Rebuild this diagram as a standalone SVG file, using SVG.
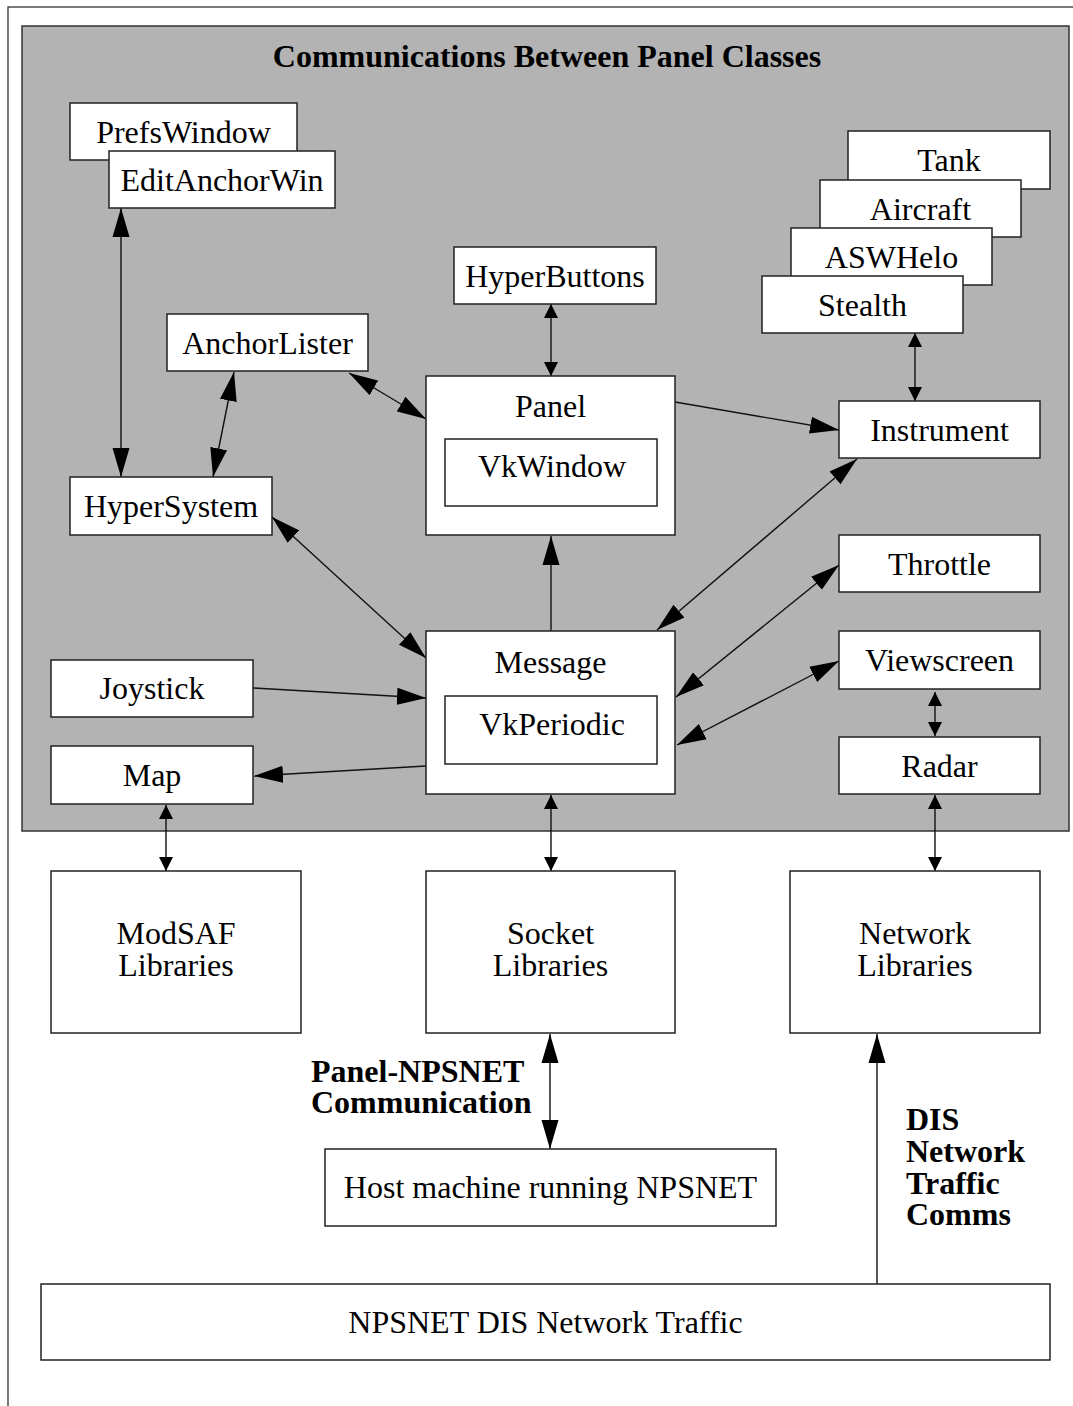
<svg xmlns="http://www.w3.org/2000/svg" width="1073" height="1406" viewBox="0 0 1073 1406">
<style>
  .box { fill: #ffffff; stroke: #222; stroke-width: 1.5; }
  .panelbg { fill: #b3b3b3; stroke: #333; stroke-width: 1.5; }
  .frame { fill: #ffffff; stroke: #333; stroke-width: 1.3; }
  .t { font-family: "Liberation Serif", "Times New Roman", serif; font-size: 32px; fill: #000; text-anchor: middle; }
  .b { font-family: "Liberation Serif", "Times New Roman", serif; font-size: 32px; font-weight: bold; fill: #000; }
  .c { fill: none; stroke: #111; stroke-width: 1.4; }
  .big { marker-end: url(#bigHead); }
  .big2 { marker-start: url(#bigHead); marker-end: url(#bigHead); }
  .small2 { marker-start: url(#smallHead); marker-end: url(#smallHead); }
</style>
<defs>
  <marker id="bigHead" markerUnits="userSpaceOnUse" markerWidth="30" markerHeight="18" refX="29" refY="8.5" orient="auto-start-reverse" viewBox="0 0 30 17">
    <path d="M0,0 L29,8.5 L0,17 z" fill="#000"/>
  </marker>
  <marker id="smallHead" markerUnits="userSpaceOnUse" markerWidth="15" markerHeight="15" refX="14" refY="7" orient="auto-start-reverse" viewBox="0 0 15 14">
    <path d="M0,0 L14,7 L0,14 z" fill="#000"/>
  </marker>
</defs>

<rect class="frame" x="8" y="7" width="1100" height="1420"/>
<rect class="panelbg" x="22" y="26" width="1047" height="805"/>
<text class="b" x="547" y="67" text-anchor="middle">Communications Between Panel Classes</text>

<g id="connectors">
  <path class="c big2" d="M121,208 L121,477"/>
  <path class="c big2" d="M234,372 L213,477"/>
  <path class="c big2" d="M349,373 L426,419"/>
  <path class="c small2" d="M551,304 L551,376"/>
  <path class="c big" d="M675,402 L839,430"/>
  <path class="c small2" d="M915,333 L915,401"/>
  <path class="c big" d="M551,631 L551,536"/>
  <path class="c big2" d="M272,517 L426,658"/>
  <path class="c big2" d="M857,459 L657,630"/>
  <path class="c big2" d="M839,565 L676,697"/>
  <path class="c big2" d="M839,661 L677,745"/>
  <path class="c small2" d="M935,692 L935,736"/>
  <path class="c big" d="M253,688 L426,698"/>
  <path class="c big" d="M426,766 L254,776"/>
  <path class="c small2" d="M166,805 L166,871"/>
  <path class="c small2" d="M551,795 L551,871"/>
  <path class="c small2" d="M935,795 L935,871"/>
  <path class="c big2" d="M550,1034 L550,1149"/>
  <path class="c big" d="M877,1284 L877,1034"/>
</g>

<g id="PrefsWindow"><rect class="box" x="70" y="103" width="227" height="57"/><text class="t" x="183.5" y="143">PrefsWindow</text></g>
<g id="EditAnchorWin"><rect class="box" x="109" y="151" width="226" height="57"/><text class="t" x="222" y="191">EditAnchorWin</text></g>
<g id="HyperButtons"><rect class="box" x="454" y="247" width="202" height="57"/><text class="t" x="555" y="287">HyperButtons</text></g>
<g id="AnchorLister"><rect class="box" x="167" y="314" width="201" height="57"/><text class="t" x="267.5" y="354">AnchorLister</text></g>
<g id="Panel"><rect class="box" x="426" y="376" width="249" height="159"/><text class="t" x="550.5" y="417">Panel</text>
  <rect class="box" x="445" y="439" width="212" height="67"/><text class="t" x="552" y="477">VkWindow</text></g>
<g id="Tank"><rect class="box" x="848" y="131" width="202" height="58"/><text class="t" x="949" y="171">Tank</text></g>
<g id="Aircraft"><rect class="box" x="820" y="180" width="201" height="57"/><text class="t" x="920.5" y="220">Aircraft</text></g>
<g id="ASWHelo"><rect class="box" x="791" y="228" width="201" height="57"/><text class="t" x="891.5" y="268">ASWHelo</text></g>
<g id="Stealth"><rect class="box" x="762" y="276" width="201" height="57"/><text class="t" x="862.5" y="316">Stealth</text></g>
<g id="Instrument"><rect class="box" x="839" y="401" width="201" height="57"/><text class="t" x="939.5" y="441">Instrument</text></g>
<g id="Throttle"><rect class="box" x="839" y="535" width="201" height="57"/><text class="t" x="939.5" y="575">Throttle</text></g>
<g id="Viewscreen"><rect class="box" x="839" y="631" width="201" height="58"/><text class="t" x="939.5" y="671">Viewscreen</text></g>
<g id="Radar"><rect class="box" x="839" y="737" width="201" height="57"/><text class="t" x="939.5" y="777">Radar</text></g>
<g id="HyperSystem"><rect class="box" x="70" y="477" width="202" height="58"/><text class="t" x="171" y="517">HyperSystem</text></g>
<g id="Joystick"><rect class="box" x="51" y="660" width="202" height="57"/><text class="t" x="152" y="699">Joystick</text></g>
<g id="Map"><rect class="box" x="51" y="746" width="202" height="58"/><text class="t" x="152" y="786">Map</text></g>
<g id="Message"><rect class="box" x="426" y="631" width="249" height="163"/><text class="t" x="550.5" y="673">Message</text>
  <rect class="box" x="445" y="696" width="212" height="68"/><text class="t" x="552" y="735">VkPeriodic</text></g>
<g id="ModSAFLibraries"><rect class="box" x="51" y="871" width="250" height="162"/><text class="t" x="176" y="944">ModSAF</text><text class="t" x="176" y="976">Libraries</text></g>
<g id="SocketLibraries"><rect class="box" x="426" y="871" width="249" height="162"/><text class="t" x="550.5" y="944">Socket</text><text class="t" x="550.5" y="976">Libraries</text></g>
<g id="NetworkLibraries"><rect class="box" x="790" y="871" width="250" height="162"/><text class="t" x="915" y="944">Network</text><text class="t" x="915" y="976">Libraries</text></g>
<g id="HostMachine"><rect class="box" x="325" y="1149" width="451" height="77"/><text class="t" x="550.5" y="1198">Host machine running NPSNET</text></g>
<g id="DISTraffic"><rect class="box" x="41" y="1284" width="1009" height="76"/><text class="t" x="545.5" y="1333">NPSNET DIS Network Traffic</text></g>

<g id="labels">
  <text class="b" x="311" y="1082">Panel-NPSNET</text>
  <text class="b" x="311" y="1113">Communication</text>
  <text class="b" x="906" y="1130">DIS</text>
  <text class="b" x="906" y="1162">Network</text>
  <text class="b" x="906" y="1194">Traffic</text>
  <text class="b" x="906" y="1225">Comms</text>
</g>
</svg>
